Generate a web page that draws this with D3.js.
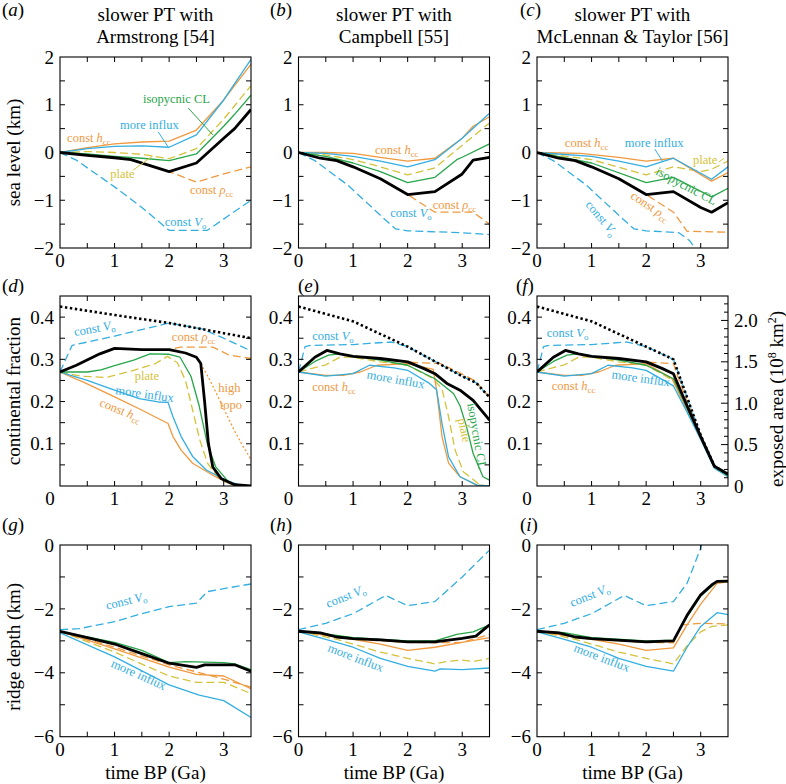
<!DOCTYPE html>
<html><head><meta charset="utf-8">
<script src="https://cdn.jsdelivr.net/npm/d3@7/dist/d3.min.js"></script>
<style>body{margin:0;background:#fff}svg,svg text,svg tspan{font-family:'Liberation Serif','Times New Roman',Times,'DejaVu Serif',serif}</style>
</head><body><svg id="c" width="786" height="784" font-family="'Liberation Serif','Times New Roman',Times,'DejaVu Serif',serif"></svg>
<script>
// ---------- data: [time BP (Ga), value] ----------
// Row 1: sea level (km)
const a_ref=[[0,0],[0.5,-0.06],[1,-0.11],[1.3,-0.15],[2,-0.4],[2.5,-0.22],[3,0.3],[3.2,0.5],[3.5,0.9]];
const a_hcc=[[0,0],[0.5,0.1],[1,0.18],[1.5,0.22],[2,0.24],[2.5,0.47],[3,1.1],[3.5,1.85]];
const a_influx=[[0,0],[0.5,0.08],[1,0.13],[1.5,0.14],[2,0.11],[2.5,0.37],[3,1.1],[3.5,1.95]];
const a_plate=[[0,0],[0.5,0.02],[1,0],[1.5,-0.04],[2,-0.13],[2.5,0.08],[3,0.7],[3.5,1.4]];
const a_iso=[[0,0],[0.5,-0.03],[1,-0.08],[1.5,-0.12],[2,-0.17],[2.5,-0.03],[3,0.55],[3.2,0.8],[3.5,1.2]];
const a_rho=[[0,0],[0.5,-0.06],[1,-0.11],[1.3,-0.15],[2,-0.4],[2.5,-0.62],[3,-0.45],[3.5,-0.3]];
const a_vo=[[0,0],[0.3,-0.16],[1,-0.72],[1.5,-1.15],[2,-1.63],[2.7,-1.63],[3.5,-1.0]];

const b_ref=[[0,0],[0.4,-0.12],[0.7,-0.17],[1,-0.3],[1.5,-0.55],[2,-0.88],[2.5,-0.82],[3,-0.45],[3.2,-0.16],[3.5,-0.1]];
const b_hcc=[[0,0],[0.5,0],[1,-0.02],[1.5,-0.1],[2,-0.18],[2.5,-0.12],[3,0.3],[3.2,0.55],[3.5,0.75]];
const b_influx=[[0,0],[0.5,-0.02],[1,-0.08],[1.5,-0.18],[2,-0.3],[2.5,-0.15],[3,0.3],[3.5,0.82]];
const b_plate=[[0,0],[0.5,-0.05],[1,-0.15],[1.5,-0.3],[2,-0.47],[2.5,-0.32],[3,0.15],[3.5,0.62]];
const b_iso=[[0,0],[0.5,-0.08],[1,-0.22],[1.5,-0.4],[2,-0.63],[2.5,-0.52],[2.9,-0.15],[3,-0.1],[3.5,0.18]];
const b_rho=[[0,0],[0.4,-0.12],[0.7,-0.17],[1,-0.3],[1.5,-0.55],[2,-0.88],[2.5,-1.25],[3.2,-1.25],[3.5,-1.5]];
const b_vo=[[0,0],[0.3,-0.17],[0.9,-0.68],[1.6,-1.42],[1.78,-1.6],[2,-1.64],[3,-1.68],[3.5,-1.72]];

const c_ref=[[0,0],[0.4,-0.12],[0.7,-0.17],[1,-0.3],[1.5,-0.55],[2,-0.88],[2.5,-0.82],[3,-1.15],[3.2,-1.25],[3.5,-1.05]];
const c_hcc=[[0,0],[0.8,-0.02],[1.5,-0.1],[2,-0.18],[2.5,-0.12],[3.2,-0.6],[3.5,-0.42]];
const c_influx=[[0,0],[1,-0.08],[1.5,-0.18],[2,-0.3],[2.5,-0.12],[3.2,-0.56],[3.5,-0.3]];
const c_plate=[[0,0],[1,-0.15],[2,-0.47],[2.5,-0.3],[3,-0.4],[3.2,-0.35],[3.5,-0.18]];
const c_iso=[[0,0],[1,-0.22],[2,-0.63],[2.5,-0.52],[3.2,-0.93],[3.5,-0.75]];
const c_rho=[[0,0],[0.4,-0.12],[0.7,-0.17],[1,-0.3],[1.5,-0.55],[2,-0.88],[2.5,-1.25],[2.75,-1.65],[3.5,-1.67]];
const c_vo=[[0,0],[0.3,-0.17],[0.9,-0.68],[1.6,-1.42],[1.78,-1.6],[2,-1.64],[2.6,-1.68],[2.8,-1.85],[2.95,-2.1]];

// Row 2: continental fraction
const d_max=[[0,0.425],[1,0.405],[2,0.386],[3,0.362],[3.5,0.35]];
const d_vo=[[0,0.27],[0.22,0.333],[1,0.355],[2,0.386],[2.6,0.372],[3,0.35],[3.5,0.32]];
const d_ref=[[0,0.27],[0.3,0.286],[0.73,0.313],[1,0.326],[1.5,0.323],[2,0.323],[2.3,0.315],[2.5,0.305],[2.58,0.29],[2.65,0.2],[2.72,0.1],[2.8,0.045],[2.95,0.018],[3.2,0.003],[3.5,0]];
const d_rho=[[0,0.27],[0.3,0.286],[0.73,0.313],[1,0.326],[1.5,0.323],[2,0.323],[2.2,0.329],[2.8,0.329],[3.1,0.31],[3.5,0.302]];
const d_iso=[[0,0.27],[0.5,0.27],[0.75,0.275],[1,0.285],[1.35,0.298],[1.65,0.313],[2,0.312],[2.2,0.305],[2.4,0.26],[2.55,0.19],[2.7,0.1],[2.85,0.046],[3.1,0.008],[3.35,0],[3.5,0]];
const d_plate=[[0,0.27],[0.4,0.26],[0.85,0.257],[1.3,0.272],[1.75,0.29],[1.97,0.307],[2.15,0.292],[2.3,0.25],[2.43,0.18],[2.56,0.11],[2.7,0.055],[2.92,0.015],[3.2,0.002],[3.35,0]];
const d_influx=[[0,0.27],[0.5,0.25],[1,0.227],[1.45,0.207],[1.8,0.199],[1.98,0.198],[2.07,0.164],[2.22,0.117],[2.43,0.07],[2.68,0.038],[3.05,0.013],[3.3,0.002],[3.5,0]];
const d_hcc=[[0,0.27],[0.45,0.245],[1,0.211],[1.45,0.183],[1.98,0.148],[2.07,0.117],[2.22,0.085],[2.43,0.054],[2.85,0.022],[3.15,0.003],[3.3,0]];
const d_topo=[[2.58,0.29],[2.75,0.25],[2.9,0.21],[3.05,0.17],[3.2,0.13],[3.35,0.095],[3.5,0.063]];

const e_max=[[0,0.425],[1,0.39],[2,0.33],[2.5,0.295],[3,0.26],[3.25,0.245],[3.5,0.21]];
const e_vo=[[0,0.27],[0.12,0.33],[0.22,0.333],[1,0.335],[1.3,0.338],[1.7,0.341],[2,0.33],[2.5,0.295],[3,0.26],[3.25,0.245],[3.5,0.21]];
const e_ref=[[0,0.27],[0.3,0.305],[0.52,0.321],[0.76,0.313],[1,0.307],[1.5,0.302],[2,0.294],[2.3,0.278],[2.5,0.266],[2.72,0.243],[2.96,0.227],[3.2,0.203],[3.5,0.156]];
const e_rho=[[0,0.27],[0.3,0.305],[0.52,0.321],[0.76,0.313],[1,0.307],[1.5,0.302],[2,0.294],[2.2,0.292],[2.6,0.29],[3,0.265],[3.25,0.248],[3.5,0.21]];
const e_iso=[[0,0.27],[0.3,0.295],[0.55,0.31],[0.76,0.313],[1.5,0.298],[2,0.286],[2.5,0.254],[2.84,0.219],[2.96,0.19],[3.08,0.14],[3.2,0.077],[3.38,0.022],[3.5,0.014]];
const e_plate=[[0,0.27],[0.5,0.287],[0.76,0.305],[1,0.305],[1.5,0.294],[2,0.286],[2.47,0.254],[2.63,0.23],[2.75,0.164],[2.87,0.085],[3.02,0.034],[3.33,0.002],[3.5,0]];
const e_influx=[[0,0.27],[0.5,0.26],[1,0.266],[1.3,0.286],[1.75,0.28],[2,0.274],[2.4,0.243],[2.53,0.228],[2.63,0.148],[2.75,0.069],[2.96,0.022],[3.27,0.002],[3.5,0]];
const e_hcc=[[0,0.27],[0.5,0.262],[0.82,0.262],[1.13,0.27],[1.44,0.286],[2,0.29],[2.47,0.276],[2.53,0.227],[2.63,0.117],[2.75,0.054],[2.96,0.022],[3.27,0.002],[3.5,0]];

const f_max=[[0,0.425],[1,0.39],[2,0.33],[2.5,0.3],[2.75,0.21],[3,0.12],[3.25,0.047],[3.5,0.028]];
const f_vo=[[0,0.27],[0.12,0.33],[0.22,0.333],[1,0.335],[1.65,0.341],[2,0.33],[2.5,0.3],[2.75,0.21],[3,0.12],[3.25,0.047],[3.5,0.028]];
const f_ref=[[0,0.27],[0.3,0.305],[0.52,0.321],[0.76,0.313],[1,0.307],[1.5,0.302],[2,0.294],[2.3,0.278],[2.5,0.266],[2.75,0.19],[3,0.117],[3.25,0.047],[3.5,0.028]];
const f_rho=[[0,0.27],[0.3,0.305],[0.52,0.321],[0.76,0.313],[1,0.307],[1.5,0.302],[2,0.294],[2.2,0.292],[2.5,0.29],[2.55,0.27],[2.75,0.2],[3,0.117],[3.25,0.046],[3.5,0.028]];
const f_iso=[[0,0.27],[0.3,0.295],[0.55,0.31],[0.76,0.313],[1.5,0.298],[2,0.286],[2.5,0.254],[2.75,0.185],[3,0.115],[3.25,0.045],[3.5,0.025]];
const f_plate=[[0,0.27],[0.5,0.287],[0.76,0.305],[1,0.305],[1.5,0.294],[2,0.286],[2.5,0.25],[2.75,0.18],[3,0.112],[3.25,0.043],[3.5,0.022]];
const f_influx=[[0,0.27],[0.5,0.26],[1,0.266],[1.3,0.286],[1.75,0.28],[2,0.274],[2.5,0.237],[2.75,0.175],[3,0.11],[3.25,0.042],[3.5,0.022]];
const f_hcc=[[0,0.27],[0.5,0.262],[0.82,0.262],[1.13,0.27],[1.44,0.286],[2,0.29],[2.47,0.255],[2.75,0.18],[3,0.113],[3.25,0.044],[3.5,0.024]];

// Row 3: ridge depth (km)
const g_vo=[[0,-2.65],[0.35,-2.62],[1,-2.4],[1.5,-2.15],[2,-1.93],[2.5,-1.82],[2.7,-1.46],[3.05,-1.35],[3.5,-1.22]];
const g_ref=[[0,-2.7],[0.5,-2.9],[1,-3.1],[1.5,-3.4],[2,-3.7],[2.5,-3.83],[2.65,-3.75],[3.2,-3.75],[3.5,-3.95]];
const g_iso=[[0,-2.7],[1,-3.05],[1.5,-3.3],[2,-3.68],[2.3,-3.65],[3,-3.68],[3.2,-3.72],[3.5,-3.9]];
const g_hcc=[[0,-2.7],[1,-3.25],[2,-3.82],[2.5,-4.05],[3,-4.1],[3.5,-4.5]];
const g_rho=[[0,-2.7],[1,-3.2],[2,-3.75],[2.5,-3.97],[3,-4.2],[3.5,-4.45]];
const g_plate=[[0,-2.7],[1,-3.35],[2,-4.1],[2.5,-4.3],[3,-4.3],[3.5,-4.65]];
const g_influx=[[0,-2.75],[1,-3.5],[2,-4.38],[2.55,-4.7],[3,-4.87],[3.5,-5.4]];

const h_vo=[[0,-2.65],[0.5,-2.45],[1,-2.15],[1.6,-1.58],[2,-1.9],[2.5,-1.77],[3,-1.0],[3.5,-0.16]];
const h_ref=[[0,-2.7],[0.4,-2.75],[0.7,-2.88],[1,-2.93],[1.5,-2.97],[2,-3.03],[2.5,-3.03],[3,-2.92],[3.25,-2.85],[3.5,-2.5]];
const h_iso=[[0,-2.7],[0.5,-2.78],[1,-2.9],[2,-3.0],[2.5,-3.0],[2.9,-2.8],[3.2,-2.72],[3.5,-2.5]];
const h_rho=[[0,-2.7],[1,-2.95],[2,-3.05],[2.5,-3.06],[3,-3.05],[3.5,-2.8]];
const h_hcc=[[0,-2.7],[1,-2.95],[1.5,-3.1],[2,-3.3],[2.5,-3.2],[3,-3.05],[3.5,-2.9]];
const h_plate=[[0,-2.7],[0.7,-2.95],[1,-3.1],[1.5,-3.35],[2,-3.55],[2.5,-3.72],[2.7,-3.65],[3,-3.6],[3.2,-3.65],[3.5,-3.55]];
const h_influx=[[0,-2.72],[0.5,-2.95],[1,-3.2],[1.5,-3.55],[2,-3.8],[2.5,-3.95],[2.6,-3.88],[3,-3.9],[3.5,-3.85]];

const i_vo=[[0,-2.65],[0.5,-2.45],[1,-2.15],[1.6,-1.58],[2,-1.9],[2.5,-1.77],[2.75,-1.2],[3,-0.1],[3.1,0.5]];
const i_ref=[[0,-2.7],[0.4,-2.75],[0.7,-2.88],[1,-2.93],[2,-3.03],[2.5,-3.0],[2.75,-2.2],[3,-1.56],[3.2,-1.25],[3.3,-1.14],[3.5,-1.13]];
const i_iso=[[0,-2.7],[0.5,-2.74],[1,-2.9],[2,-3.0],[2.5,-2.98],[2.75,-2.25],[3,-1.6],[3.3,-1.15],[3.5,-1.13]];
const i_rho=[[0,-2.7],[1,-2.95],[2,-3.05],[2.5,-3.06],[2.65,-2.5],[3,-2.45],[3.5,-2.47]];
const i_hcc=[[0,-2.7],[1,-2.95],[1.5,-3.1],[2,-3.3],[2.5,-3.22],[2.75,-2.5],[3,-1.85],[3.3,-1.2],[3.5,-1.15]];
const i_plate=[[0,-2.7],[0.7,-2.95],[1,-3.1],[1.5,-3.35],[2,-3.55],[2.5,-3.72],[2.75,-3.15],[3,-2.72],[3.2,-2.55],[3.5,-2.5]];
const i_influx=[[0,-2.72],[0.5,-2.95],[1,-3.2],[1.5,-3.55],[2,-3.8],[2.5,-3.95],[2.75,-3.2],[3,-2.55],[3.3,-2.12],[3.5,-2.18]];

// ---------- text ----------
const titles=[["slower PT with","Armstrong [54]"],["slower PT with","Campbell [55]"],["slower PT with","McLennan & Taylor [56]"]];
const panelLetters=["a","b","c","d","e","f","g","h","i"];
const rowTitles=["sea level (km)","continental fraction","ridge depth (km)"];
const xTitle="time BP (Ga)";
const xTickVals=[0,1,2,3];
const xTickValsMid=[1,2,3];
const yTickRow1=[2,1,0,-1,-2];
const yTickRow2=[0.1,0.2,0.3,0.4];
const yTickRow3=[0,-2,-4,-6];
const areaTicks=[0,0.5,1.0,1.5,2.0];
const earthArea=5.1; // 10^8 km^2 per unit fraction

// label anchors in data coords: [key, t, value, rotation]
const lab_a=[["iso",1.52,1.04,0],["influx",1.10,0.49,0],["hcc",0.13,0.22,0],["plate",0.92,-0.53,0],["rho",2.38,-0.87,0],["vo",1.92,-1.54,0]];
const lead_a=[["iso",2.35,0.93,2.8,0.37],["influx",1.8,0.43,1.98,0.12],["plate",1.34,-0.37,1.7,-0.07]];
const lab_b=[["hcc",1.40,-0.03,0],["rho",2.46,-1.18,0],["vo",1.68,-1.35,0]];
const lab_c=[["hcc",0.51,0.12,0],["influx",1.61,0.12,0],["plate",2.86,-0.24,0],["iso",2.16,-0.45,28],["rho",1.70,-0.95,33],["vo",0.88,-1.1,50]];
const lead_c=[["influx",2.16,0.07,2.31,-0.2],["plate",3.33,-0.2,3.43,-0.12]];
const lab_d=[["vo",0.27,0.355,-10],["rho",2.05,0.343,0],["plate",1.37,0.25,0],["influx",1.01,0.218,8],["hcc",0.71,0.19,22],["high",2.9,0.222,0],["topo",2.93,0.182,0]];
const lab_e=[["vo",0.25,0.345,0],["influx",1.24,0.255,10],["hcc",0.25,0.224,0],["iso",3.09,0.195,80],["plate",2.92,0.158,78]];
const lab_f=[["vo",0.18,0.352,0],["hcc",0.27,0.227,0],["influx",1.36,0.255,8]];
const lab_g=[["vo",0.86,-2.03,-14],["influx",0.92,-3.8,24]];
const lab_h=[["vo",0.54,-1.97,-22],["influx",0.52,-3.32,21]];
const lab_i=[["vo",0.64,-1.94,-22],["influx",0.66,-3.32,21]];

const PARTS={
  hcc:[["const ",0],["h",1],["cc",2]],
  rho:[["const ",0],["ρ",1],["cc",2]],
  vo:[["const ",0],["V",1],["o",2]],
  influx:[["more influx",0]],
  plate:[["plate",0]],
  iso:[["isopycnic CL",0]],
  high:[["high",0]],
  topo:[["topo",0]]
};
const COL={ref:"#000",max:"#000",hcc:"#f0993f",rho:"#f0993f",topo:"#f0993f",high:"#f0993f",influx:"#33aee0",vo:"#33aee0",plate:"#d4c23a",iso:"#27a549"};
const STY={ref:[2.8,null],max:[2.6,"2.4,2.6"],hcc:[1.3,null],rho:[1.3,"8,4"],influx:[1.3,null],vo:[1.3,"8,4"],plate:[1.3,"8,4"],iso:[1.3,null],topo:[1.3,"2,2.2"]};
const ORDER=["vo","rho","topo","plate","hcc","influx","iso","ref","max"];

// ---------- layout ----------
const FONT="'Liberation Serif','Times New Roman',Times,'DejaVu Serif',serif";
const svg=d3.select("#c");
const colX=[60,298.5,537], PW=191;
const rowG=[{top:57,h:191,dom:[-2,2]},{top:296,h:190,dom:[0,0.45]},{top:545,h:191.7,dom:[-6,0]}];
const FS=19, AFS=12.5;

const panels=[
 {s:{ref:a_ref,hcc:a_hcc,influx:a_influx,plate:a_plate,iso:a_iso,rho:a_rho,vo:a_vo},lab:lab_a,lead:lead_a},
 {s:{ref:b_ref,hcc:b_hcc,influx:b_influx,plate:b_plate,iso:b_iso,rho:b_rho,vo:b_vo},lab:lab_b,lead:[]},
 {s:{ref:c_ref,hcc:c_hcc,influx:c_influx,plate:c_plate,iso:c_iso,rho:c_rho,vo:c_vo},lab:lab_c,lead:lead_c},
 {s:{max:d_max,vo:d_vo,ref:d_ref,rho:d_rho,iso:d_iso,plate:d_plate,influx:d_influx,hcc:d_hcc,topo:d_topo},lab:lab_d,lead:[]},
 {s:{max:e_max,vo:e_vo,ref:e_ref,rho:e_rho,iso:e_iso,plate:e_plate,influx:e_influx,hcc:e_hcc},lab:lab_e,lead:[]},
 {s:{max:f_max,vo:f_vo,ref:f_ref,rho:f_rho,iso:f_iso,plate:f_plate,influx:f_influx,hcc:f_hcc},lab:lab_f,lead:[]},
 {s:{vo:g_vo,ref:g_ref,iso:g_iso,hcc:g_hcc,rho:g_rho,plate:g_plate,influx:g_influx},lab:lab_g,lead:[]},
 {s:{vo:h_vo,ref:h_ref,iso:h_iso,hcc:h_hcc,rho:h_rho,plate:h_plate,influx:h_influx},lab:lab_h,lead:[]},
 {s:{vo:i_vo,ref:i_ref,iso:i_iso,hcc:i_hcc,rho:i_rho,plate:i_plate,influx:i_influx},lab:lab_i,lead:[]}
];
const fmt=v=>(v<0?"\u2212":"")+Math.abs(v);

function txt(g){ return g.append("text").attr("font-family",FONT); }

function rich(g,key,x,y,rot){
  const t=txt(g).attr("x",x).attr("y",y).attr("fill",COL[key]).attr("font-size",AFS);
  if(rot) t.attr("transform",`rotate(${rot},${x},${y})`);
  PARTS[key].forEach(([s,st])=>{
    const ts=t.append("tspan").text(s);
    if(st===1) ts.attr("font-style","italic");
    if(st===2) ts.attr("font-size",8.8).attr("dy",3);
  });
}

panels.forEach((p,idx)=>{
  const ci=idx%3, ri=Math.floor(idx/3);
  const L=colX[ci], R=rowG[ri];
  const x=d3.scaleLinear().domain([0,3.5]).range([L,L+PW]);
  const y=d3.scaleLinear().domain(R.dom).range([R.top+R.h,R.top]);
  const g=svg.append("g");
  const cid="clip"+idx;
  svg.append("clipPath").attr("id",cid).append("rect").attr("x",L).attr("y",R.top).attr("width",PW).attr("height",R.h);
  const lg=g.append("g").attr("clip-path",`url(#${cid})`);
  const line=d3.line().x(d=>x(d[0])).y(d=>y(d[1]));
  ORDER.forEach(k=>{
    if(!p.s[k]) return;
    const [w,da]=STY[k];
    lg.append("path").attr("d",line(p.s[k])).attr("fill","none").attr("stroke",COL[k])
      .attr("stroke-width",w).attr("stroke-linejoin","round").attr("stroke-dasharray",da);
  });
  p.lead.forEach(([k,t1,v1,t2,v2])=>{
    g.append("line").attr("x1",x(t1)).attr("y1",y(v1)).attr("x2",x(t2)).attr("y2",y(v2))
     .attr("stroke",COL[k]).attr("stroke-width",1);
  });
  p.lab.forEach(([k,t,v,r])=>rich(g,k,x(t),y(v),r));
  g.append("rect").attr("x",L).attr("y",R.top).attr("width",PW).attr("height",R.h)
   .attr("fill","none").attr("stroke","#000").attr("stroke-width",1.1);
  const tk=g.append("g").attr("stroke","#000").attr("stroke-width",1);
  d3.range(0.5,3.5,0.5).forEach(t=>{
    tk.append("line").attr("x1",x(t)).attr("x2",x(t)).attr("y1",R.top+R.h).attr("y2",R.top+R.h-5);
    tk.append("line").attr("x1",x(t)).attr("x2",x(t)).attr("y1",R.top).attr("y2",R.top+5);
  });
  const ystep=[0.5,0.05,1][ri];
  const yt=d3.range(R.dom[0]+ystep, R.dom[1]-1e-9, ystep);
  yt.forEach(v=>{
    tk.append("line").attr("x1",L).attr("x2",L+5).attr("y1",y(v)).attr("y2",y(v));
    if(idx!==5) tk.append("line").attr("x1",L+PW).attr("x2",L+PW-5).attr("y1",y(v)).attr("y2",y(v));
  });
  if(idx===5){
    const ya=d3.scaleLinear().domain([0,0.45*earthArea]).range([R.top+R.h,R.top]);
    d3.range(0.1,2.25,0.1).forEach(a=>{
      const major=Math.abs(a*2-Math.round(a*2))<1e-6;
      tk.append("line").attr("x1",L+PW).attr("x2",L+PW-(major?7:4)).attr("y1",ya(a)).attr("y2",ya(a));
    });
    areaTicks.forEach(a=>{
      txt(g).attr("x",L+PW+6).attr("y",ya(a)).attr("dy","0.35em").attr("font-size",FS)
       .text(a===0?"0":a.toFixed(1));
    });
    txt(g).attr("transform",`translate(776,${R.top+R.h/2+8}) rotate(-90)`).attr("text-anchor","middle")
     .attr("dy","0.35em").attr("font-size",FS)
     .call(t=>{t.append("tspan").text("exposed area (10");t.append("tspan").attr("font-size",12).attr("dy",-7).text("8");
              t.append("tspan").attr("dy",7).text(" km");t.append("tspan").attr("font-size",12).attr("dy",-7).text("2");
              t.append("tspan").attr("dy",7).text(")");});
  }
  const yLabs=[yTickRow1,yTickRow2,yTickRow3][ri];
  yLabs.forEach(v=>{
    txt(g).attr("x",L-6).attr("y",y(v)).attr("dy","0.35em").attr("text-anchor","end").attr("font-size",FS)
     .text(ri===1?v.toFixed(1):fmt(v));
  });
  const xLabs= ri===1?xTickValsMid:xTickVals;
  xLabs.forEach(t=>{
    txt(g).attr("x",x(t)).attr("y",R.top+R.h+19).attr("text-anchor","middle").attr("font-size",FS).text(t);
  });
  if(ri===1){
    txt(g).attr("x",L-10).attr("y",R.top+R.h+19).attr("text-anchor","middle").attr("font-size",FS).text("0");
  }
  const lx=[2,270,520][ci] + (ri===1 && ci===1 ? 28 : 0) + (ri===1 && ci===2 ? -4 : 0);
  const ly=[16,292,531][ri];
  txt(g).attr("x",lx).attr("y",ly).attr("font-size",FS)
   .call(t=>{t.append("tspan").text("(");t.append("tspan").attr("font-style","italic").text(panelLetters[idx]);t.append("tspan").text(")");});
  if(ri===0){
    txt(g).attr("x",L+PW/2).attr("y",21).attr("text-anchor","middle").attr("font-size",FS).text(titles[ci][0]);
    txt(g).attr("x",L+PW/2).attr("y",43).attr("text-anchor","middle").attr("font-size",FS).text(titles[ci][1]);
  }
  if(ri===2){
    txt(g).attr("x",L+PW/2).attr("y",779).attr("text-anchor","middle").attr("font-size",FS).text(xTitle);
  }
  if(ci===0){
    txt(g).attr("transform",`translate(13,${R.top+R.h/2+(ri===2?6:0)}) rotate(-90)`).attr("text-anchor","middle")
     .attr("dy","0.35em").attr("font-size",FS).text(rowTitles[ri]);
  }
});
</script></body></html>
